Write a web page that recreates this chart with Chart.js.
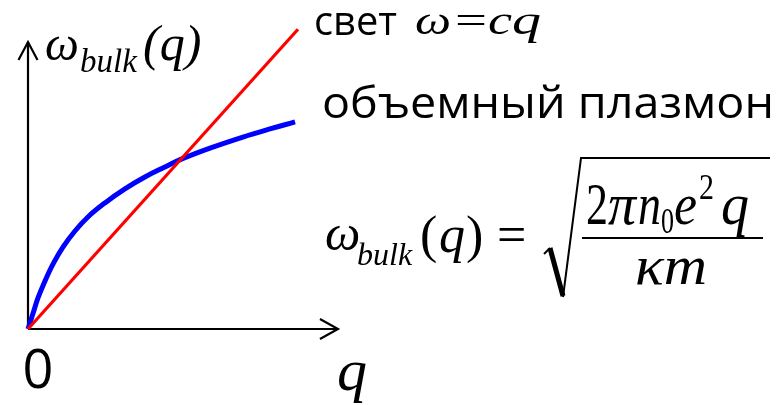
<!DOCTYPE html>
<html>
<head>
<meta charset="utf-8">
<script src="https://cdn.jsdelivr.net/npm/chart.js@4"></script>
<style>
  html, body { margin: 0; padding: 0; background: #fff; }
  #wrap { width: 781px; height: 405px; }
</style>
</head>
<body>
<div id="wrap"><canvas id="myChart" width="781" height="405"></canvas></div>
<script>
// объемный плазмон: omega(q)
const qPlasmon = [0, 0.19, 0.37, 0.63, 0.93, 1.3, 1.74, 2.22, 2.85, 3.59, 4.33, 5.07, 5.7, 6.74, 7.96, 8.96, 9.89];
const omegaPlasmon = [0, 0.59, 1.15, 1.78, 2.41, 3.04, 3.63, 4.15, 4.67, 5.19, 5.63, 6.0, 6.3, 6.7, 7.11, 7.41, 7.67];

// свет: omega = c q
const qLight = [0, 10];
const omegaLight = [0, 11.1];

// axis lengths (arrow tips) and labels
const axisEnds = [11.48, 10.63];
const tickLabels = ['0', 'q'];

const sansFont = '"Open Sans", "Noto Sans", sans-serif';
const serifFont = '"Liberation Serif", "DejaVu Serif", serif';

function toPoints(xs, ys) {
    return xs.map(function(x, i) {
        return { x: x, y: ys[i] };
    });
}

// draws text; if w is given the text is stretched sideways to that width
function put(ctx, str, x, y, font, w) {
    ctx.font = font;
    if (!w) {
        ctx.fillText(str, x, y);
        return;
    }
    const k = w / ctx.measureText(str).width;
    ctx.save();
    ctx.translate(x, y);
    ctx.scale(k, 1);
    ctx.fillText(str, 0, 0);
    ctx.restore();
}

const axesPlugin = {
    id: 'axes',
    beforeDatasetsDraw(chart) {
        const ctx = chart.ctx;
        const xs = chart.scales.x, ys = chart.scales.y;
        const x0 = xs.getPixelForValue(0), y0 = ys.getPixelForValue(0);
        const xEnd = xs.getPixelForValue(axisEnds[0]);
        const yEnd = ys.getPixelForValue(axisEnds[1]);
        ctx.save();
        ctx.strokeStyle = '#000';
        ctx.lineWidth = 2.2;
        ctx.beginPath();
        ctx.moveTo(x0, y0); ctx.lineTo(xEnd, y0);
        ctx.moveTo(x0, y0); ctx.lineTo(x0, yEnd);
        ctx.stroke();
        // arrow heads
        ctx.beginPath();
        ctx.moveTo(xEnd - 18, y0 - 10); ctx.lineTo(xEnd, y0); ctx.lineTo(xEnd - 18, y0 + 10);
        ctx.moveTo(x0 - 9.5, yEnd + 18); ctx.lineTo(x0, yEnd); ctx.lineTo(x0 + 9.5, yEnd + 18);
        ctx.stroke();
        ctx.restore();
    }
};

const textPlugin = {
    id: 'texts',
    afterDraw(chart) {
        const ctx = chart.ctx;
        const xs = chart.scales.x, ys = chart.scales.y;
        const x0 = xs.getPixelForValue(0), y0 = ys.getPixelForValue(0);
        ctx.save();
        ctx.fillStyle = '#000';
        ctx.textBaseline = 'alphabetic';

        // tick "0" and axis title "q"
        ctx.textAlign = 'center';
        put(ctx, tickLabels[0], x0 + 10, y0 + 59, '54px ' + sansFont);
        ctx.textAlign = 'left';
        put(ctx, tickLabels[1], xs.getPixelForValue(axisEnds[0]) - 1, y0 + 61, 'italic 60px ' + serifFont);

        // y axis title
        put(ctx, 'ω', 45, 60, 'italic 48px ' + serifFont);
        put(ctx, 'bulk', 80, 72, 'italic 33px ' + serifFont);
        put(ctx, '(q)', 143, 60, 'italic 50px ' + serifFont);

        // light line label
        put(ctx, 'свет', 314, 35, '41px ' + sansFont, 83);
        put(ctx, 'ω', 415, 34, 'italic 40px ' + serifFont, 36);
        put(ctx, '=', 455, 34, '40px ' + serifFont, 32);
        put(ctx, 'c', 488, 34, 'italic 40px ' + serifFont, 24);
        put(ctx, 'q', 512, 34, 'italic 40px ' + serifFont, 29);

        // plasmon label
        put(ctx, 'объемный плазмон', 322, 118, '44px ' + sansFont, 452);

        // formula: left side
        put(ctx, 'ω', 325, 250, 'italic 50px ' + serifFont);
        put(ctx, 'bulk', 357, 265, 'italic 32px ' + serifFont);
        put(ctx, '(', 420, 252, '52px ' + serifFont);
        put(ctx, 'q', 439, 252, 'italic 52px ' + serifFont);
        put(ctx, ')', 466, 252, '52px ' + serifFont);
        put(ctx, '=', 497, 252, '52px ' + serifFont);

        // radical sign
        ctx.strokeStyle = '#000';
        ctx.lineCap = 'butt';
        ctx.lineWidth = 2;
        ctx.beginPath();
        ctx.moveTo(544, 254); ctx.lineTo(550, 248);
        ctx.stroke();
        ctx.lineWidth = 5;
        ctx.beginPath();
        ctx.moveTo(550, 248); ctx.lineTo(563, 296);
        ctx.stroke();
        ctx.lineWidth = 2;
        ctx.beginPath();
        ctx.moveTo(563, 297); ctx.lineTo(581, 158); ctx.lineTo(770, 158);
        ctx.stroke();

        // fraction bar
        ctx.lineWidth = 2.2;
        ctx.beginPath();
        ctx.moveTo(582, 238); ctx.lineTo(763, 238);
        ctx.stroke();

        // numerator, drawn a little taller than wide
        ctx.save();
        ctx.translate(0, 224);
        ctx.scale(1, 1.3);
        put(ctx, '2', 586, 0, '46px ' + serifFont, 22);
        put(ctx, 'π', 608, 0, 'italic 46px ' + serifFont, 28);
        put(ctx, 'n', 638, 0, 'italic 46px ' + serifFont, 23);
        put(ctx, '0', 661, 7, '28px ' + serifFont, 13);
        put(ctx, 'e', 674, 0, 'italic 46px ' + serifFont, 23);
        put(ctx, '2', 699, -19, '28px ' + serifFont, 15);
        put(ctx, 'q', 721, 0, 'italic 46px ' + serifFont, 28);
        ctx.restore();

        // denominator
        put(ctx, 'κm', 635, 284, 'italic 54px ' + serifFont, 72);

        ctx.restore();
    }
};

const data = {
    datasets: [
        {
            label: 'свет',
            data: toPoints(qLight, omegaLight),
            borderColor: '#ff0000',
            borderWidth: 3.2,
            pointRadius: 0,
            clip: false
        },
        {
            label: 'объемный плазмон',
            data: toPoints(qPlasmon, omegaPlasmon),
            borderColor: '#0000ff',
            borderWidth: 5,
            pointRadius: 0,
            tension: 0.4,
            clip: false
        }
    ]
};

const config = {
    type: 'line',
    data,
    options: {
        responsive: false,
        animation: false,
        layout: { padding: 0 },
        plugins: {
            legend: { display: false },
            tooltip: { enabled: false }
        },
        scales: {
            x: { type: 'linear', display: false, min: -28 / 27, max: 753 / 27 },
            y: { type: 'linear', display: false, min: -76 / 27, max: 329 / 27 }
        }
    },
    plugins: [axesPlugin, textPlugin]
};

const myChart = new Chart(document.getElementById('myChart'), config);
</script>
</body>
</html>
